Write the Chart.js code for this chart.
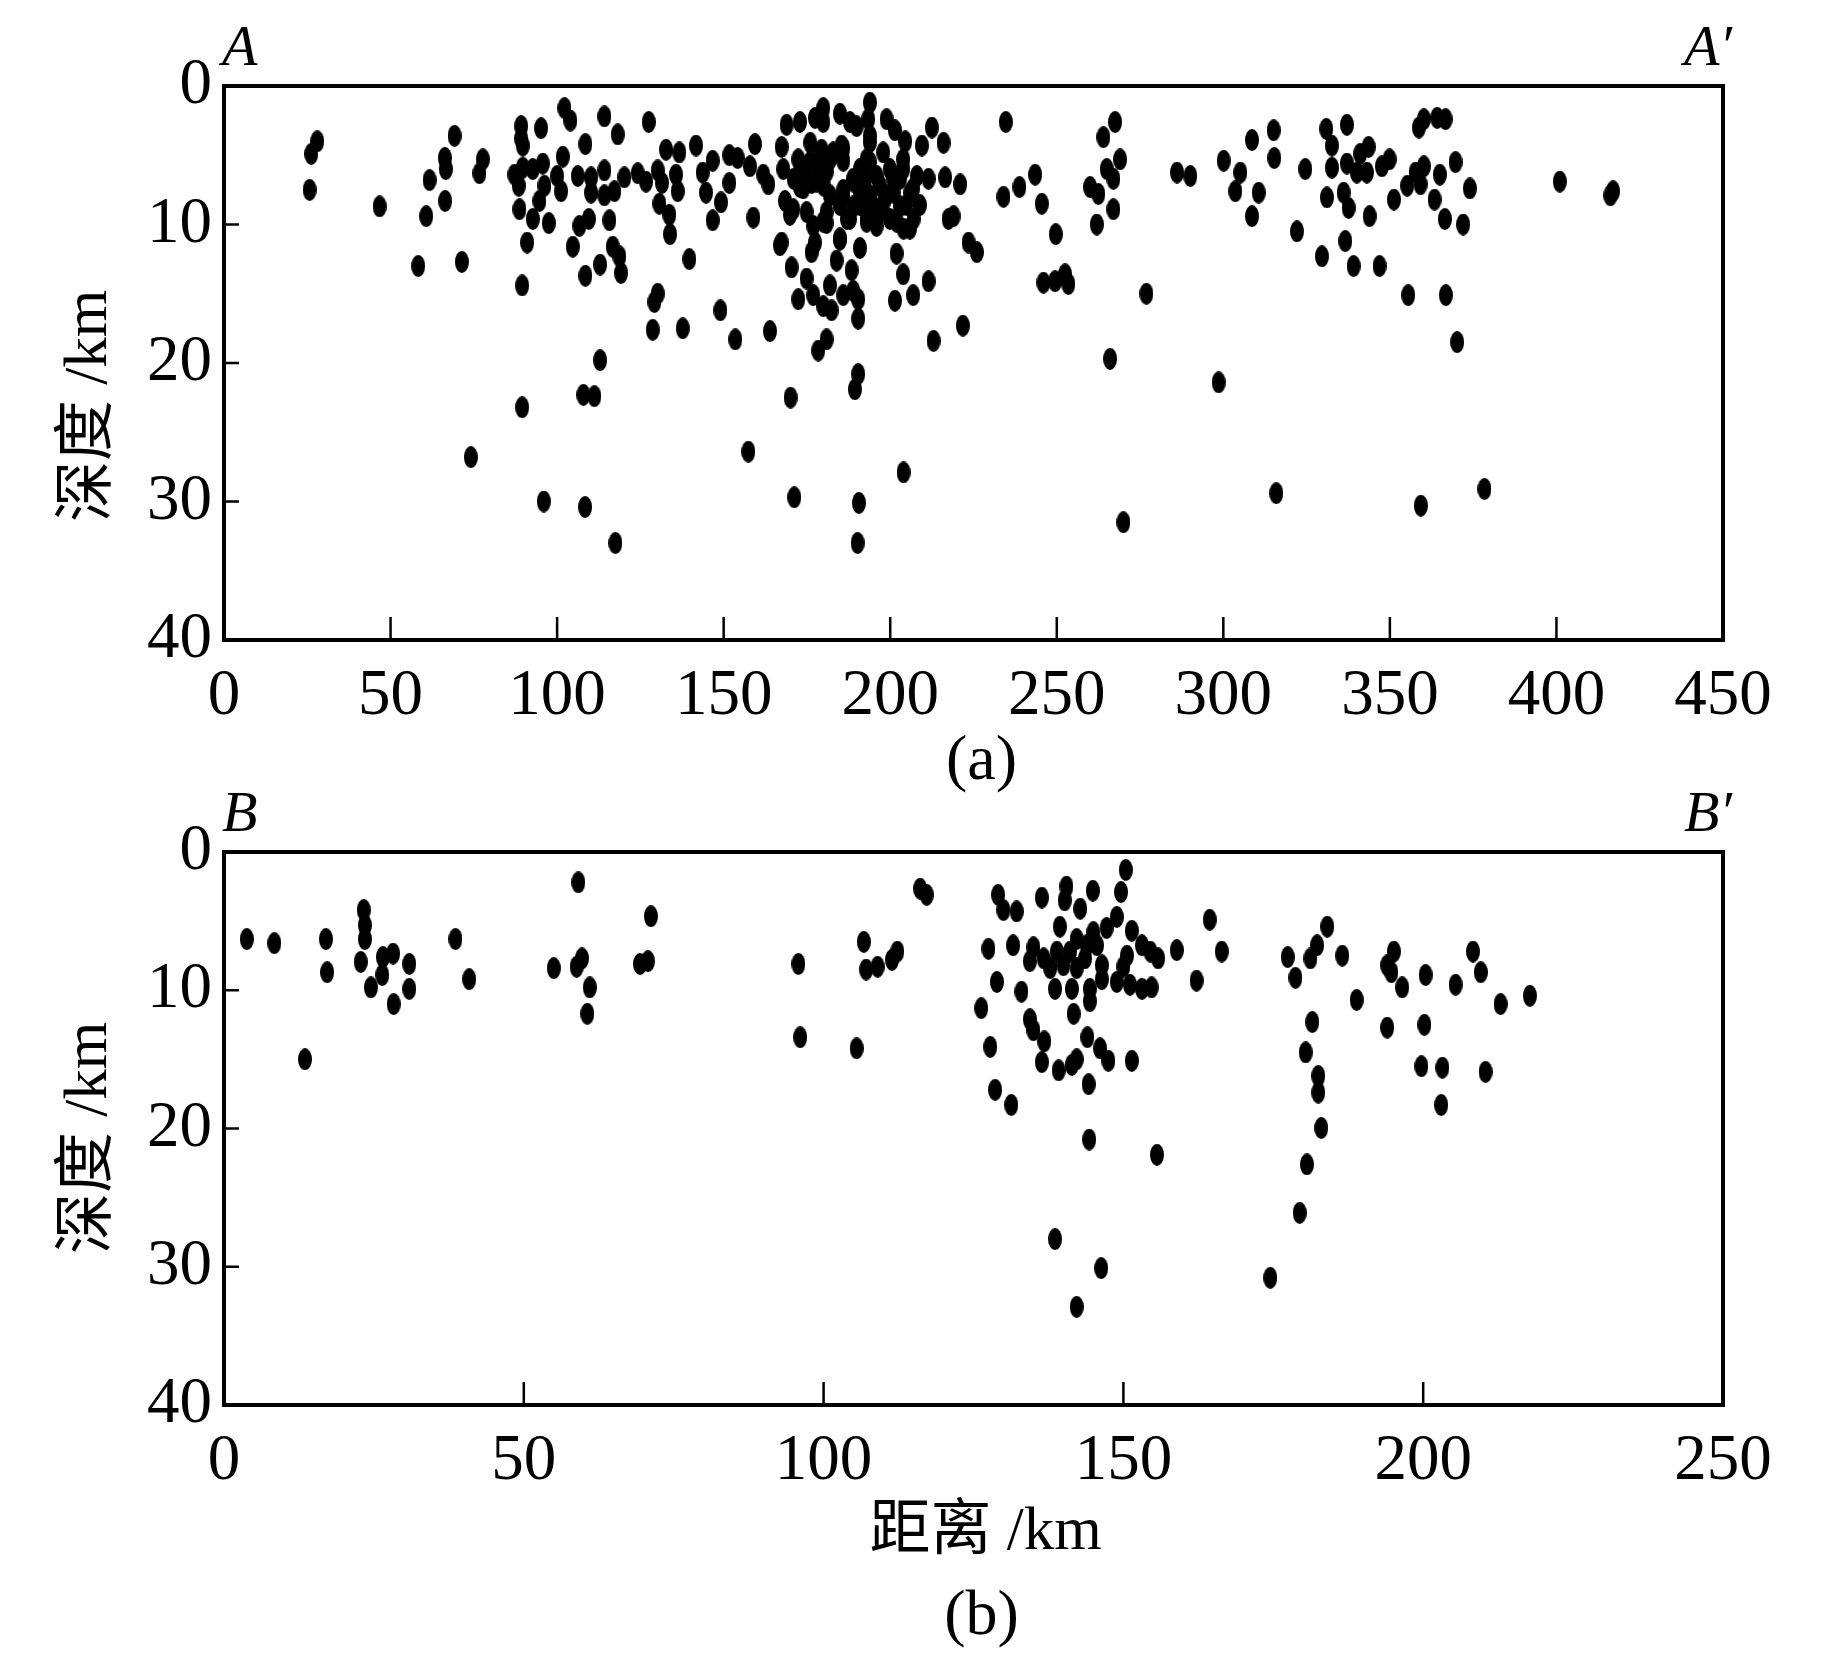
<!DOCTYPE html>
<html>
<head>
<meta charset="utf-8">
<script src="https://cdn.jsdelivr.net/npm/chart.js@4.4.1/dist/chart.umd.min.js"></script>
<style>
html, body { margin: 0; padding: 0; background: #fff; }
#wrap { position: relative; width: 1843px; height: 1654px; }
.panel { position: absolute; left: 0; width: 1843px; }
</style>
</head>
<body>
<div id="wrap">
  <div class="panel" style="top:0"><canvas id="chartA" width="1843" height="800"></canvas></div>
  <div class="panel" style="top:766px"><canvas id="chartB" width="1843" height="888"></canvas></div>
</div>
<script>
// ============ DATA ============
// section A-A' : [distance km, depth km]
const sectionA = [
  [28.0,4.0],[26.2,4.9],[25.7,7.5],[46.7,8.7],[69.2,3.6],[66.3,5.2],[66.6,6.0],[61.7,6.8],[66.4,8.3],[60.7,9.4],
  [77.7,5.3],[76.7,6.3],[58.3,13.0],[71.4,12.7],[89.5,14.4],[89.5,23.2],[112.9,19.8],[107.9,22.3],[111.2,22.4],
  [128.7,17.6],[137.7,17.5],[130.2,15.0],[129.2,15.6],[149.0,16.2],[153.5,18.3],[139.7,12.5],
  [89.2,2.9],[89.2,3.8],[89.7,4.3],[95.2,3.05],[102.2,1.6],[104.0,2.5],[114.2,2.2],[118.2,3.5],[127.5,2.6],
  [108.5,4.2],[101.7,5.1],[87.2,6.4],[89.7,5.9],[92.7,6.0],[95.7,5.6],[88.5,7.2],[96.2,7.2],[94.7,8.3],[88.7,8.9],
  [92.7,9.6],[97.5,9.9],[100.0,6.5],[101.2,7.6],[106.2,6.5],[110.2,6.6],[114.2,6.1],[110.2,7.7],[114.2,7.9],
  [117.2,7.6],[120.2,6.6],[124.2,6.3],[126.7,6.9],[109.5,9.6],[106.7,10.1],[115.7,9.7],[104.7,11.6],[116.7,11.6],
  [118.7,12.3],[112.9,12.9],[108.5,13.7],[119.2,13.5],[91.0,11.3],[132.7,4.6],[136.7,4.8],[141.7,4.3],[130.2,6.1],
  [131.5,7.0],[135.7,6.4],[136.2,7.6],[130.7,8.5],[133.7,9.3],[133.9,10.7],[143.7,6.25],[144.7,7.7],[146.7,5.4],
  [149.2,8.4],[146.7,9.7],[151.7,5.0],[151.7,7.0],[154.2,5.2],
  [158.9,9.5],[159.4,4.2],[157.9,5.8],[161.9,6.4],[163.4,7.1],[167.4,4.4],[167.9,6.0],[168.4,8.3],[169.9,9.3],
  [168.9,2.8],[172.9,2.6],[177.4,2.3],[179.9,1.6],[179.9,2.6],[184.9,2.0],[187.9,2.6],[189.9,2.9],[193.9,1.2],
  [193.4,2.4],[193.9,3.6],[198.9,2.4],[201.4,3.2],[204.5,4.0],[212.5,3.0],[209.5,4.3],[216.0,4.1],[172.4,5.3],
  [173.9,6.25],[172.9,7.3],[179.4,4.6],[178.4,6.0],[185.4,4.3],[185.9,5.4],[181.9,5.3],[176.4,7.0],[174.9,9.1],
  [180.9,9.1],[185.9,7.5],[188.9,6.7],[192.9,5.3],[192.4,6.7],[188.9,8.7],[193.9,8.2],[196.9,7.2],[197.9,4.8],
  [199.9,6.0],[203.9,5.3],[202.9,6.7],[206.0,7.7],[208.0,6.5],[211.5,6.7],[202.9,8.7],[207.0,9.6],[204.0,10.3],
  [199.9,9.6],[195.9,10.1],[193.0,9.6],[187.0,9.6],[180.9,9.9],[176.9,10.1],[184.9,8.4],[198.0,8.4],[201.0,7.7],
  [191.0,7.7],[196.0,8.9],[180.0,7.2],[171.0,6.7],[176.0,4.1],
  [185.9,7.9],[188.9,6.9],[190.9,8.6],[193.9,7.9],[187.9,9.6],[192.9,9.8],[196.9,9.1],[200.9,6.7],[203.9,6.0],
  [206.9,7.4],[204.9,8.6],[208.9,8.6],[201.9,9.8],[205.9,10.3],[198.9,7.9],[195.9,6.5],[184.9,8.6],[190.9,6.0],
  [172.9,6.2],[175.9,5.5],[178.9,5.0],[182.9,4.8],[185.9,4.5],[180.9,6.2],[173.9,7.4],[177.9,6.9],[181.9,7.9],
  [193.9,5.5],[193.9,4.05],[170.9,8.9],[179.9,9.8],[184.9,11.0],
  [167.4,11.3],[166.9,11.5],[170.4,13.1],[176.4,12.0],[177.4,11.3],[184.9,11.1],[183.9,12.6],[190.9,11.7],
  [188.4,13.3],[174.9,13.9],[172.4,15.4],[176.9,15.1],[179.9,15.9],[181.9,14.4],[182.4,16.2],[185.9,15.1],
  [188.9,14.8],[190.4,15.4],[190.4,16.8],[201.9,12.1],[203.9,13.6],[201.4,15.5],[206.9,15.1],[211.5,14.1],
  [163.9,17.7],[180.9,18.3],[178.4,19.1],[190.4,20.8],[189.4,21.9],[170.1,22.5],[213.0,18.4],[221.8,17.3],
  [216.5,6.6],[221.0,7.1],[219.0,9.4],[217.5,9.6],[223.5,11.3],[226.0,12.0],[234.7,2.6],[234.0,8.0],[238.8,7.3],
  [243.5,6.4],[245.5,8.5],[249.7,10.7],[246.0,14.2],[249.5,14.1],[252.5,13.6],[253.5,14.3],[266.0,19.7],
  [276.9,15.0],[267.5,2.6],[264.0,3.7],[269.0,5.3],[265.0,6.0],[260.0,7.3],[262.5,7.8],[267.0,6.7],[267.0,8.9],
  [262.0,10.0],[286.1,6.25],[290.1,6.5],[308.6,3.9],[300.1,5.4],[305.1,6.25],[303.6,7.6],[308.6,9.4],[310.6,7.7],
  [298.6,21.4],
  [315.1,3.2],[315.3,5.2],[324.6,6.0],[330.9,3.1],[332.6,4.3],[337.1,2.8],[332.6,5.9],[337.1,5.6],[340.1,6.25],
  [341.1,4.9],[343.6,4.4],[343.1,6.25],[347.6,5.8],[349.9,5.3],[331.1,8.05],[336.1,7.7],[337.6,8.8],[343.9,9.4],
  [351.2,8.2],[322.1,10.5],[336.6,11.2],[329.6,12.3],[339.1,13.0],[346.9,13.0],[355.5,15.1],[366.8,15.1],
  [370.2,18.5],[358.7,3.0],[360.2,2.4],[364.2,2.3],[366.7,2.4],[355.2,7.2],[357.7,6.25],[360.2,5.8],[359.2,7.1],
  [365.0,6.4],[369.7,5.5],[363.4,8.2],[366.5,9.6],[372.0,10.0],[374.0,7.4],[401.0,6.9],[416.2,7.9],[417.0,7.6],
  [74.1,26.8],[96.0,30.0],[108.4,30.4],[117.5,33.0],[171.2,29.7],[190.6,30.1],[190.2,33.0],[204.0,27.9],
  [270.0,31.5],[315.9,29.4],[359.3,30.3],[378.4,29.1],[157.4,26.4]
];

// section B-B'
const sectionB = [
  [3.8,6.3],[8.4,6.6],[17.0,6.3],[17.2,8.7],[13.5,15.0],[23.3,4.2],[23.5,5.3],[23.5,6.3],[22.8,7.95],[26.5,7.6],
  [28.2,7.35],[26.4,8.9],[24.5,9.8],[30.9,8.1],[30.9,9.9],[28.3,11.0],[38.6,6.3],[40.9,9.2],[59.1,2.2],[55.0,8.4],
  [58.8,8.3],[59.7,7.7],[61.0,9.8],[60.6,11.7],[71.2,4.65],[69.4,8.1],[70.7,7.9],
  [95.8,8.1],[96.1,13.4],[105.5,14.2],[106.7,6.5],[107.1,8.5],[109.0,8.3],[111.4,7.8],[112.3,7.2],[116.1,2.65],
  [117.2,3.1],[129.1,3.1],[130.0,4.2],[132.2,4.3],[136.4,3.3],[140.5,2.5],[140.2,3.5],[142.8,4.1],[144.9,2.8],
  [150.4,1.3],[149.6,2.9],[148.9,4.7],[147.2,5.5],[139.4,5.4],[142.2,6.3],[145.0,5.8],[127.5,7.0],[131.6,6.75],
  [135.0,6.9],[134.4,7.9],[136.7,7.7],[138.9,7.2],[141.1,7.2],[143.9,6.75],[145.6,6.75],[137.8,8.4],[140.0,8.2],
  [142.2,8.4],[143.6,7.7],[146.4,8.2],[128.9,9.4],[133.0,10.1],[138.6,9.9],[141.4,9.9],[144.4,9.9],[146.4,9.2],
  [144.4,10.8],[141.7,11.7],[126.3,11.3],[134.4,12.1],[135.0,12.9],[136.8,13.7],[127.8,14.1],[144.0,13.4],
  [146.1,14.2],[147.5,15.1],[151.4,15.1],[142.2,15.0],[139.2,15.8],[141.4,15.4],[136.4,15.2],[144.2,16.8],
  [128.6,17.2],[131.3,18.3],[144.3,20.8],[155.6,21.9],[151.4,5.7],[153.1,6.75],[155.8,7.7],[154.5,7.2],
  [150.6,7.5],[150.0,8.3],[148.9,9.4],[151.1,9.6],[153.1,9.9],[154.7,9.8],[158.9,7.1],[164.4,4.9],[166.4,7.2],
  [162.2,9.3],
  [177.4,7.6],[178.7,9.1],[181.2,7.7],[182.3,6.75],[184.0,5.4],[186.5,7.5],[188.9,10.7],[181.5,12.3],[180.4,14.5],
  [182.5,16.2],[182.5,17.4],[183.0,19.96],[180.6,22.6],[194.0,8.2],[195.1,7.2],[194.7,8.7],[196.5,9.8],
  [200.4,8.9],[194.0,12.7],[200.2,12.5],[199.7,15.5],[203.2,15.6],[203.0,18.3],[205.4,9.6],[208.3,7.2],
  [209.6,8.7],[212.9,11.0],[217.8,10.4],[210.4,15.9],
  [138.6,28.0],[146.3,30.1],[142.2,32.9],[174.5,30.8],[179.4,26.1]
];

const xTicksA = [0, 50, 100, 150, 200, 250, 300, 350, 400, 450];
const xTicksB = [0, 50, 100, 150, 200, 250];
const depthTicks = [0, 10, 20, 30, 40];

// ============ STYLE ============
const SERIF = "'Liberation Serif', 'Times New Roman', serif";
const MIXED = "'Liberation Serif', 'Noto Sans CJK SC', serif";

// filled ellipse used as the point marker
const dot = document.createElement('canvas');
dot.width = 14;
dot.height = 22;
(function() {
    const c = dot.getContext('2d');
    c.fillStyle = '#000';
    c.beginPath();
    c.ellipse(7, 11, 7, 11, 0, 0, Math.PI * 2);
    c.fill();
})();

// frame, inward ticks and the loose labels
const framePlugin = {
    id: 'frame',
    afterDraw(chart, args, o) {
        const { ctx, chartArea: a, scales: { x, y } } = chart;
        ctx.save();
        ctx.strokeStyle = '#000';
        ctx.lineWidth = 4;
        ctx.strokeRect(a.left, a.top, a.right - a.left, a.bottom - a.top);

        ctx.lineWidth = 2.5;
        ctx.beginPath();
        x.ticks.forEach(t => {
            if (t.value <= x.min || t.value >= x.max) return;
            const px = x.getPixelForValue(t.value);
            ctx.moveTo(px, a.bottom);
            ctx.lineTo(px, a.bottom - 23);
        });
        y.ticks.forEach(t => {
            if (t.value <= y.min || t.value >= y.max) return;
            const py = y.getPixelForValue(t.value);
            ctx.moveTo(a.left, py);
            ctx.lineTo(a.left + 15, py);
        });
        ctx.stroke();

        ctx.fillStyle = '#000';
        ctx.textBaseline = 'alphabetic';
        ctx.font = 'italic 58px ' + SERIF;
        ctx.textAlign = 'left';
        ctx.fillText(o.left, a.left - 2, a.top - 21);
        ctx.textAlign = 'right';
        ctx.fillText(o.right, a.right + 9, a.top - 21);

        ctx.font = '64px ' + SERIF;
        ctx.textAlign = 'center';
        ctx.fillText(o.caption, (a.left + a.right) / 2 + 8, o.captionY);

        ctx.font = '61px ' + MIXED;
        if (o.xTitle) ctx.fillText(o.xTitle, (a.left + a.right) / 2 + 12, o.xTitleY);

        ctx.translate(90, o.yTitleY);
        ctx.rotate(-Math.PI / 2);
        ctx.textBaseline = 'middle';
        ctx.fillText(o.yTitle, 0, 0);
        ctx.restore();
    }
};

function makeChart(id, pts, xTicks, xAxisHeight, labels) {
    return new Chart(document.getElementById(id), {
        type: 'scatter',
        data: {
            datasets: [{
                data: pts.map(p => ({ x: p[0], y: p[1] })),
                pointStyle: dot,
                backgroundColor: '#000',
                borderWidth: 0
            }]
        },
        options: {
            responsive: false,
            animation: false,
            layout: { padding: { top: 86, right: 120, left: 0, bottom: 0 } },
            plugins: {
                legend: { display: false },
                tooltip: { enabled: false },
                frame: labels
            },
            scales: {
                x: {
                    type: 'linear',
                    min: 0,
                    max: xTicks[xTicks.length - 1],
                    grid: { display: false, drawTicks: false },
                    border: { display: false },
                    afterBuildTicks: s => { s.ticks = xTicks.map(v => ({ value: v })); },
                    afterFit: s => { s.height = xAxisHeight; },
                    ticks: { color: '#000', font: { family: SERIF, size: 65 }, padding: 18, maxRotation: 0, autoSkip: false }
                },
                y: {
                    type: 'linear',
                    reverse: true,
                    min: 0,
                    max: 40,
                    grid: { display: false, drawTicks: false },
                    border: { display: false },
                    afterBuildTicks: s => { s.ticks = depthTicks.map(v => ({ value: v })); },
                    afterFit: s => { s.width = 224; },
                    ticks: { color: '#000', font: { family: SERIF, size: 65 }, padding: 12, autoSkip: false }
                }
            }
        },
        plugins: [framePlugin]
    });
}

makeChart('chartA', sectionA, xTicksA, 160,
    { left: 'A', right: 'A\u2032', caption: '(a)', captionY: 779, yTitle: '深度 /km', yTitleY: 406 });
makeChart('chartB', sectionB, xTicksB, 249,
    { left: 'B', right: 'B\u2032', caption: '(b)', captionY: 868, yTitle: '深度 /km', yTitleY: 372,
      xTitle: '距离 /km', xTitleY: 783 });
</script>
</body>
</html>
